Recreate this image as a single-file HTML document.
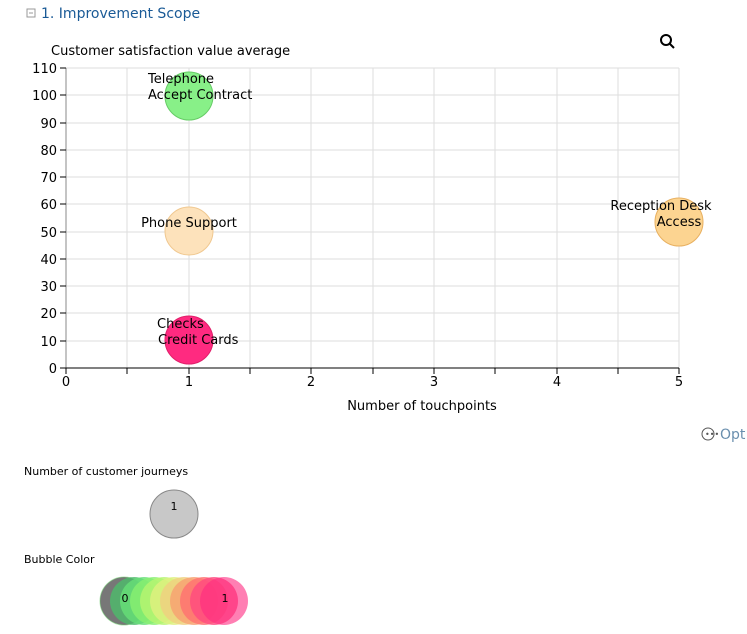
<!DOCTYPE html><html><head><style>body{margin:0;background:#fff;}svg{display:block}</style></head><body>
<svg width="747" height="634" xmlns="http://www.w3.org/2000/svg" font-family="'DejaVu Sans','Liberation Sans',sans-serif">
<rect x="27" y="9" width="8" height="8" fill="none" stroke="#999"/><line x1="29" y1="13" x2="33" y2="13" stroke="#999"/>
<text x="41" y="18" font-size="14" fill="#1a5a96">1. Improvement Scope</text>
<text x="51" y="55" font-size="13" fill="#000">Customer satisfaction value average</text>
<circle cx="666" cy="40" r="5" fill="none" stroke="#000" stroke-width="2"/><line x1="670" y1="44" x2="674" y2="48" stroke="#000" stroke-width="2"/>
<g stroke="#ddd">
<line x1="66" y1="68" x2="679" y2="68"/><line x1="66" y1="95" x2="679" y2="95"/><line x1="66" y1="123" x2="679" y2="123"/><line x1="66" y1="150" x2="679" y2="150"/><line x1="66" y1="177" x2="679" y2="177"/><line x1="66" y1="204" x2="679" y2="204"/><line x1="66" y1="232" x2="679" y2="232"/><line x1="66" y1="259" x2="679" y2="259"/><line x1="66" y1="286" x2="679" y2="286"/><line x1="66" y1="313" x2="679" y2="313"/><line x1="66" y1="341" x2="679" y2="341"/>
<line x1="127" y1="68" x2="127" y2="368"/><line x1="189" y1="68" x2="189" y2="368"/><line x1="250" y1="68" x2="250" y2="368"/><line x1="311" y1="68" x2="311" y2="368"/><line x1="373" y1="68" x2="373" y2="368"/><line x1="434" y1="68" x2="434" y2="368"/><line x1="495" y1="68" x2="495" y2="368"/><line x1="557" y1="68" x2="557" y2="368"/><line x1="618" y1="68" x2="618" y2="368"/><line x1="679" y1="68" x2="679" y2="368"/>
</g>
<g stroke="#000"><line x1="66" y1="68" x2="66" y2="368" stroke="#888"/><line x1="66" y1="368" x2="679" y2="368"/>
<line x1="60" y1="68" x2="66" y2="68"/><line x1="60" y1="95" x2="66" y2="95"/><line x1="60" y1="123" x2="66" y2="123"/><line x1="60" y1="150" x2="66" y2="150"/><line x1="60" y1="177" x2="66" y2="177"/><line x1="60" y1="204" x2="66" y2="204"/><line x1="60" y1="232" x2="66" y2="232"/><line x1="60" y1="259" x2="66" y2="259"/><line x1="60" y1="286" x2="66" y2="286"/><line x1="60" y1="313" x2="66" y2="313"/><line x1="60" y1="341" x2="66" y2="341"/><line x1="60" y1="368" x2="66" y2="368"/>
<line x1="66" y1="368" x2="66" y2="374"/><line x1="127" y1="368" x2="127" y2="374"/><line x1="189" y1="368" x2="189" y2="374"/><line x1="250" y1="368" x2="250" y2="374"/><line x1="311" y1="368" x2="311" y2="374"/><line x1="373" y1="368" x2="373" y2="374"/><line x1="434" y1="368" x2="434" y2="374"/><line x1="495" y1="368" x2="495" y2="374"/><line x1="557" y1="368" x2="557" y2="374"/><line x1="618" y1="368" x2="618" y2="374"/><line x1="679" y1="368" x2="679" y2="374"/></g>
<g font-size="13" text-anchor="end">
<text x="57" y="73">110</text><text x="57" y="100">100</text><text x="57" y="128">90</text><text x="57" y="155">80</text><text x="57" y="182">70</text><text x="57" y="209">60</text><text x="57" y="237">50</text><text x="57" y="264">40</text><text x="57" y="291">30</text><text x="57" y="318">20</text><text x="57" y="346">10</text><text x="57" y="373">0</text></g>
<g font-size="13" text-anchor="middle"><text x="66" y="386">0</text><text x="189" y="386">1</text><text x="311" y="386">2</text><text x="434" y="386">3</text><text x="557" y="386">4</text><text x="679" y="386">5</text>
<text x="422" y="410">Number of touchpoints</text></g>
<circle cx="189" cy="96" r="24" fill="#88f088" stroke="#6c6"/>
<circle cx="189" cy="231" r="24" fill="#fde2bb" stroke="#f0c890"/>
<circle cx="189" cy="340" r="24" fill="#ff2a80" stroke="#e0206a"/>
<circle cx="679" cy="222" r="24" fill="#fcd491" stroke="#e8b060"/>
<g font-size="13"><text x="148" y="83">Telephone</text><text x="148" y="99">Accept Contract</text>
<text x="189" y="227" text-anchor="middle">Phone Support</text>
<text x="157" y="328">Checks</text><text x="158" y="344">Credit Cards</text>
<text x="661" y="210" text-anchor="middle">Reception Desk</text><text x="679" y="226" text-anchor="middle">Access</text></g>
<circle cx="708" cy="434" r="6" fill="none" stroke="#555"/><text x="705" y="437" font-size="8" fill="#555">•••</text>
<text x="720" y="439" font-size="14" fill="#6a8fae">Opt</text>
<text x="24" y="475" font-size="11">Number of customer journeys</text>
<circle cx="174" cy="514" r="24" fill="#c8c8c8" stroke="#888"/><text x="174" y="510" font-size="11" text-anchor="middle">1</text>
<text x="24" y="563" font-size="11">Bubble Color</text>
<g stroke-opacity="0.5">
<circle cx="124" cy="601" r="24" fill="#777" stroke="#6c6"/>
<circle cx="134" cy="601" r="24" fill="#4cbb6a" fill-opacity=".8"/>
<circle cx="144" cy="601" r="24" fill="#66e077" fill-opacity=".8"/>
<circle cx="154" cy="601" r="24" fill="#88f070" fill-opacity=".8"/>
<circle cx="164" cy="601" r="24" fill="#b8f570" fill-opacity=".8"/>
<circle cx="174" cy="601" r="24" fill="#e0f080" fill-opacity=".8"/>
<circle cx="184" cy="601" r="24" fill="#f0d080" fill-opacity=".8"/>
<circle cx="194" cy="601" r="24" fill="#f8a070" fill-opacity=".8"/>
<circle cx="204" cy="601" r="24" fill="#ff7070" fill-opacity=".8"/>
<circle cx="214" cy="601" r="24" fill="#ff4a80" fill-opacity=".8"/>
<circle cx="224" cy="601" r="24" fill="#ff2a80" fill-opacity=".6"/>
</g>
<text x="125" y="602" font-size="11" text-anchor="middle">0</text><text x="225" y="602" font-size="11" text-anchor="middle">1</text>
</svg></body></html>
